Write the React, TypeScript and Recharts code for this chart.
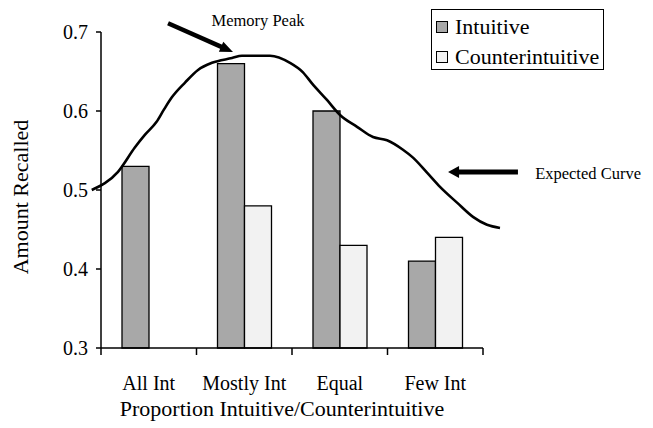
import React from 'react';
import { ComposedChart, Bar, Line, XAxis, YAxis, Legend, ReferenceLine, ReferenceDot } from 'recharts';

// ---- data ----
const categories = ['All Int', 'Mostly Int', 'Equal', 'Few Int'];
const intuitive = [0.53, 0.66, 0.6, 0.41];
const counterintuitive: (number | null)[] = [null, 0.48, 0.43, 0.44];
const seriesNames = ['Intuitive', 'Counterintuitive'];
const yTicks = [0.3, 0.4, 0.5, 0.6, 0.7];
const yDomain: [number, number] = [0.3, 0.7];
const boundaryTicks = [0, 1, 2, 3, 4];

// "Expected Curve" — x in category units (0 = left edge of "All Int", 4 = right edge of "Few Int")
const curveX = [-0.097, 0.178, 0.356, 0.461, 0.58, 0.66, 0.74, 0.88, 1.016, 1.162, 1.372, 1.476, 1.77, 1.979, 2.115, 2.209, 2.366, 2.503, 2.681, 2.848, 2.995, 3.162, 3.267, 3.414, 3.55, 3.728, 3.895, 4.042, 4.178];
const curveY = [0.5, 0.523, 0.554, 0.57, 0.586, 0.602, 0.617, 0.636, 0.652, 0.661, 0.667, 0.67, 0.67, 0.661, 0.649, 0.635, 0.614, 0.595, 0.58, 0.567, 0.563, 0.551, 0.541, 0.522, 0.504, 0.484, 0.466, 0.456, 0.452];
const curveDomain: [number, number] = [-0.1, 4.2];

const barData = categories.map((name, i) => ({
  name,
  Intuitive: intuitive[i],
  Counterintuitive: counterintuitive[i],
}));
const curveData = curveX.map((x, i) => ({ x, y: curveY[i] }));

// ---- layout ----
const W = 653;
const H = 428;
const margin = { top: 32, right: 170, left: 41, bottom: 0 };
const yAxisWidth = 60;
const xAxisHeight = 80;
const plotW = W - margin.left - margin.right - yAxisWidth;
const plotH = H - margin.top - margin.bottom - xAxisHeight;
const unit = plotW / 4;
const tickLenData = (7 * (yDomain[1] - yDomain[0])) / plotH;
const FONT = '"Liberation Serif", "Times New Roman", serif';

const arrowShape = (headLen: number, headW: number, sw: number) => (p: any) => {
  const { x1, y1, x2, y2 } = p;
  const dx = x2 - x1;
  const dy = y2 - y1;
  const len = Math.hypot(dx, dy) || 1;
  const ux = dx / len;
  const uy = dy / len;
  const bx = x2 - ux * headLen;
  const by = y2 - uy * headLen;
  const px = -uy;
  const py = ux;
  return (
    <g>
      <line x1={x1} y1={y1} x2={bx + ux * 1} y2={by + uy * 1} stroke="#000" strokeWidth={sw} />
      <polygon
        points={`${x2},${y2} ${bx + (px * headW) / 2},${by + (py * headW) / 2} ${bx - (px * headW) / 2},${by - (py * headW) / 2}`}
        fill="#000"
      />
    </g>
  );
};

const renderLegend = (props: any) => {
  const payload = (props.payload || [])
    .filter((e: any) => e.type !== 'none')
    .sort((a: any, b: any) => seriesNames.indexOf(a.value) - seriesNames.indexOf(b.value));
  return (
    <div
      style={{
        border: '1.5px solid #000',
        background: '#fff',
        width: 173,
        height: 61,
        boxSizing: 'border-box',
        padding: '2px 0 0 4px',
        fontFamily: FONT,
        fontSize: 22,
        color: '#000',
      }}
    >
      {payload.map((e: any) => (
        <div key={e.value} style={{ display: 'flex', alignItems: 'center', height: 30, whiteSpace: 'nowrap' }}>
          <span
            style={{
              display: 'inline-block',
              width: 12,
              height: 12,
              boxSizing: 'border-box',
              border: '1.5px solid #000',
              background: e.color,
              marginRight: 7,
            }}
          />
          <span>{e.value}</span>
        </div>
      ))}
    </div>
  );
};

export default function App() {
  return (
    <div style={{ position: 'absolute', left: 0, top: 0, width: W, height: H, background: '#fff', fontFamily: FONT }}>
      <ComposedChart width={W} height={H} data={barData} margin={margin} barGap={0}>
        {/* hidden numeric axis: curve, x-axis line, boundary ticks and annotations */}
        <XAxis
          xAxisId={0}
          type="number"
          dataKey="x"
          hide
          height={0}
          domain={curveDomain}
          padding={{ left: curveDomain[0] * unit, right: -(curveDomain[1] - 4) * unit }}
          ticks={boundaryTicks}
        />
        {/* category axis for bars and labels */}
        <XAxis
          xAxisId="cat"
          dataKey="name"
          type="category"
          height={xAxisHeight}
          axisLine={false}
          tickLine={false}
          tickSize={0}
          tickMargin={28}
          interval={0}
          tick={{ fill: '#000', fontSize: 20, fontFamily: FONT }}
          label={{
            value: 'Proportion Intuitive/Counterintuitive',
            position: 'insideBottom',
            offset: 12,
            dx: -10,
            fill: '#000',
            fontSize: 22,
            fontFamily: FONT,
          }}
        />
        <YAxis
          width={yAxisWidth}
          domain={yDomain}
          ticks={yTicks}
          interval={0}
          tickFormatter={(v: number) => v.toFixed(1)}
          tickSize={5}
          tickMargin={8}
          axisLine={{ stroke: '#000', strokeWidth: 1.5 }}
          tickLine={{ stroke: '#000', strokeWidth: 1.5 }}
          tick={{ fill: '#000', fontSize: 20, fontFamily: FONT }}
          label={{
            value: 'Amount Recalled',
            angle: -90,
            position: 'center',
            dx: -51,
            dy: 7,
            fill: '#000',
            fontSize: 22,
            fontFamily: FONT,
          }}
        />
        <Legend
          layout="vertical"
          align="center"
          verticalAlign="middle"
          wrapperStyle={{ left: 431, top: 9, width: 'auto', height: 'auto' }}
          content={renderLegend}
        />
        <Bar
          xAxisId="cat"
          dataKey="Intuitive"
          fill="#a8a8a8"
          stroke="#000"
          strokeWidth={1.3}
          barSize={27}
          isAnimationActive={false}
        />
        <Bar
          xAxisId="cat"
          dataKey="Counterintuitive"
          fill="#f2f2f2"
          stroke="#000"
          strokeWidth={1.3}
          barSize={27}
          isAnimationActive={false}
        />
        {/* x-axis baseline and category boundary tick marks */}
        <ReferenceLine
          xAxisId={0}
          segment={[{ x: boundaryTicks[0], y: yDomain[0] }, { x: boundaryTicks[boundaryTicks.length - 1], y: yDomain[0] }]}
          ifOverflow="visible"
          stroke="#000"
          strokeWidth={1.5}
        />
        {boundaryTicks.map((t) => (
          <ReferenceLine
            key={`bt-${t}`}
            xAxisId={0}
            segment={[{ x: t, y: yDomain[0] }, { x: t, y: yDomain[0] - tickLenData }]}
            ifOverflow="visible"
            stroke="#000"
            strokeWidth={1.5}
          />
        ))}
        <Line
          xAxisId={0}
          data={curveData}
          dataKey="y"
          type="monotone"
          stroke="#000"
          strokeWidth={2.6}
          dot={false}
          activeDot={false}
          legendType="none"
          isAnimationActive={false}
        />
        <ReferenceLine
          xAxisId={0}
          segment={[{ x: 0.702, y: 0.711 }, { x: 1.382, y: 0.6747 }]}
          ifOverflow="visible"
          shape={arrowShape(13, 11, 4.5)}
        />
        <ReferenceLine
          xAxisId={0}
          segment={[{ x: 4.366, y: 0.5228 }, { x: 3.634, y: 0.5228 }]}
          ifOverflow="visible"
          shape={arrowShape(11, 12, 5)}
        />
        <ReferenceDot
          xAxisId={0}
          x={1.644}
          y={0.715}
          r={0}
          ifOverflow="visible"
          stroke="none"
          fill="none"
          label={{ value: 'Memory Peak', position: 'center', fill: '#000', fontSize: 16.5, fontFamily: FONT }}
        />
        <ReferenceDot
          xAxisId={0}
          x={5.1}
          y={0.5215}
          r={0}
          ifOverflow="visible"
          stroke="none"
          fill="none"
          label={{ value: 'Expected Curve', position: 'center', fill: '#000', fontSize: 16.5, fontFamily: FONT }}
        />
      </ComposedChart>
    </div>
  );
}
